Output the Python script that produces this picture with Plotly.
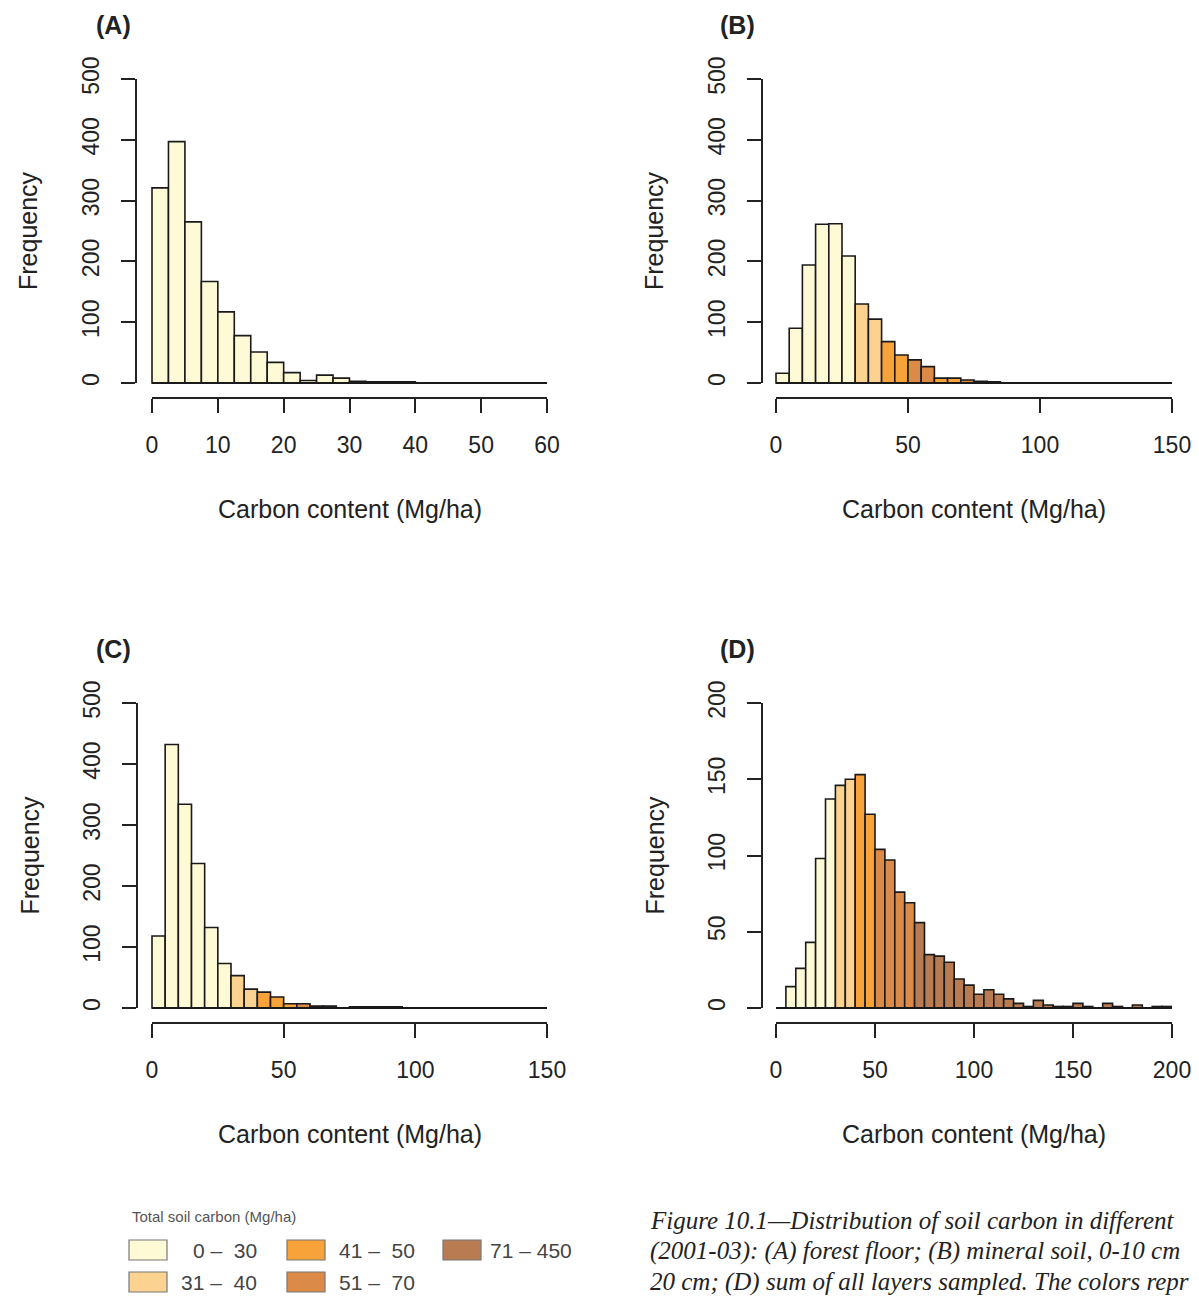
import plotly.graph_objects as go

# ---------------- data ----------------
A_start, A_binw = 0, 2.5
A_counts = [321, 397, 265, 167, 117, 78, 51, 34, 17, 4, 13, 8, 3, 2, 2, 2]
A_class = [0] * 16

B_start, B_binw = 0, 5
B_counts = [16, 90, 194, 261, 262, 209, 130, 105, 68, 46, 38, 27, 8, 8, 5, 3, 2]
B_class = [0, 0, 0, 0, 0, 0, 1, 1, 2, 2, 3, 3, 2, 2, 3, 4, 4]

C_start, C_binw = 0, 5
C_counts = [118, 432, 334, 237, 132, 73, 53, 31, 26, 18, 7, 7, 3, 3, 0, 2, 2, 2, 2]
C_class = [0, 0, 0, 0, 0, 0, 1, 1, 2, 2, 2, 3, 4, 4, 4, 4, 4, 4, 4]

D_start, D_binw = 5, 5
D_counts = [14, 26, 43, 98, 137, 146, 150, 153, 127, 104, 97, 76, 69, 56, 35, 34, 30,
            19, 15, 9, 12, 9, 6, 3, 1, 5, 2, 1, 1, 3, 1, 0, 3, 1, 0, 2, 0, 1, 1]
D_class = [0] * 5 + [1] * 2 + [2] * 2 + [3] * 4 + [4] * 26

class_labels = ["0 \u2013  30", "31 \u2013  40", "41 \u2013  50", "51 \u2013  70", "71 \u2013 450"]
class_colors = ["#FFFAD6", "#FCD290", "#F8A33A", "#DC8A47", "#B87B52"]

panel_titles = ["(A)", "(B)", "(C)", "(D)"]
x_ticks = [[0, 10, 20, 30, 40, 50, 60], [0, 50, 100, 150], [0, 50, 100, 150], [0, 50, 100, 150, 200]]
y_ticks = [[0, 100, 200, 300, 400, 500]] * 3 + [[0, 50, 100, 150, 200]]
x_max = [60, 150, 150, 200]
y_max = [500, 500, 500, 200]
x_title = "Carbon content (Mg/ha)"
y_title = "Frequency"
legend_title = "Total soil carbon (Mg/ha)"
caption_lines = [
    "Figure 10.1\u2014Distribution of soil carbon in different",
    "(2001-03): (A) forest floor; (B) mineral soil, 0-10 cm",
    "20 cm; (D) sum of all layers sampled. The colors repr",
]

# ---------------- layout geometry (screen pixels) ----------------
OFF = 8                      # page body margin in the browser
W, H = 1199 - OFF, 1300 - OFF  # figure size


def px(x):
    return (x - OFF) / W


def py(y):
    return 1 - (y - OFF) / H


# (yaxis_x, x0_px, xmax_px, y0_px, ymax_px, xaxis_y)
geo = [
    (136, 152, 547, 383, 79, 398),
    (762, 776, 1172, 383, 79, 398),
    (137, 152, 547, 1008, 703, 1023),
    (762, 776, 1172, 1008, 703, 1023),
]

FONT = "Liberation Sans, Arial, sans-serif"
INK = "#222222"

fig = go.Figure()
panels = [(A_start, A_binw, A_counts, A_class), (B_start, B_binw, B_counts, B_class),
          (C_start, C_binw, C_counts, C_class), (D_start, D_binw, D_counts, D_class)]

shapes = []
annotations = []
for i, (start, bw, counts, cls) in enumerate(panels):
    n = "" if i == 0 else str(i + 1)
    ax_x, x0p, xmp, y0p, ymp, xay = geo[i]
    pxu = (xmp - x0p) / x_max[i]
    pyu = (y0p - ymp) / y_max[i]
    xr = [-(x0p - ax_x) / pxu, x_max[i]]
    yr = [-(xay - y0p) / pyu, y_max[i]]
    centers = [start + bw * (k + 0.5) for k in range(len(counts))]
    fig.add_trace(go.Bar(
        x=centers, y=counts, width=[bw] * len(counts),
        marker=dict(color=[class_colors[c] for c in cls], line=dict(color="#1a1a1a", width=1.6)),
        xaxis="x" + n, yaxis="y" + n, showlegend=False, hoverinfo="x+y",
    ))
    xa = dict(domain=[px(ax_x), px(xmp)], range=xr, anchor="y" + n, automargin=False,
              tickmode="array", tickvals=x_ticks[i], ticks="outside", ticklen=14, tickwidth=2,
              tickcolor=INK, showline=False, showgrid=False, zeroline=False,
              tickfont=dict(family=FONT, size=23, color=INK), ticklabelstandoff=12)
    ya = dict(domain=[py(xay), py(ymp)], range=yr, anchor="x" + n, automargin=False,
              tickmode="array", tickvals=y_ticks[i], ticks="outside", ticklen=14, tickwidth=2,
              tickcolor=INK, showline=False, showgrid=False, zeroline=False, tickangle=-90,
              tickfont=dict(family=FONT, size=23, color=INK), ticklabelstandoff=13)
    fig.update_layout(**{"xaxis" + n: xa, "yaxis" + n: ya})
    # R-style axis lines spanning only the tick range, plus zero baseline
    shapes.append(dict(type="line", xref="x" + n, yref="y" + n + " domain", x0=0, x1=x_max[i], y0=0, y1=0,
                       line=dict(color=INK, width=2)))
    shapes.append(dict(type="line", xref="x" + n + " domain", yref="y" + n, x0=0, x1=0, y0=0, y1=y_max[i],
                       line=dict(color=INK, width=2)))
    shapes.append(dict(type="line", xref="x" + n, yref="y" + n, x0=0, x1=x_max[i], y0=0, y1=0,
                       line=dict(color="#1a1a1a", width=2)))
    # titles
    annotations.append(dict(text="<b>" + panel_titles[i] + "</b>", x=px(x0p - 39), y=py(ymp - 54),
                            xref="paper", yref="paper", showarrow=False, xanchor="center", yanchor="middle",
                            font=dict(family=FONT, size=25, color=INK)))
    annotations.append(dict(text=x_title, x=px((x0p + xmp) / 2), y=py(xay + 111),
                            xref="paper", yref="paper", showarrow=False, xanchor="center", yanchor="middle",
                            font=dict(family=FONT, size=25, color=INK)))
    annotations.append(dict(text=y_title, x=px(ax_x - 108), y=py((y0p + ymp) / 2),
                            xref="paper", yref="paper", showarrow=False, xanchor="center", yanchor="middle",
                            textangle=-90, font=dict(family=FONT, size=25, color=INK)))

# ---------------- legend ----------------
annotations.append(dict(text=legend_title, x=px(130), y=py(1216), xref="paper", yref="paper",
                        showarrow=False, xanchor="left", yanchor="middle",
                        font=dict(family=FONT, size=15, color="#555555")))
sw_pos = [(129, 1240), (129, 1272), (287, 1240), (287, 1272), (443, 1240)]
for k, (sx, sy) in enumerate(sw_pos):
    shapes.append(dict(type="rect", xref="paper", yref="paper", x0=px(sx), x1=px(sx + 38),
                       y0=py(sy + 20), y1=py(sy), fillcolor=class_colors[k],
                       line=dict(color="#777777", width=1.2)))
    annotations.append(dict(text=class_labels[k], x=px(sx + 130 if k < 4 else sx + 131),
                            y=py(sy + 10), xref="paper", yref="paper", showarrow=False,
                            xanchor="right", yanchor="middle",
                            font=dict(family=FONT, size=21, color="#444444")))

# ---------------- caption ----------------
for j, line in enumerate(caption_lines):
    annotations.append(dict(text="<i>" + line + "</i>", x=px(648), y=py(1220 + 31 * j),
                            xref="paper", yref="paper", showarrow=False, xanchor="left", yanchor="middle",
                            font=dict(family="Liberation Serif, Times New Roman, serif", size=25, color="#222222")))

fig.update_layout(width=W, height=H, margin=dict(l=0, r=0, t=0, b=0),
                  paper_bgcolor="white", plot_bgcolor="white", barmode="overlay",
                  shapes=shapes, annotations=annotations, showlegend=False)

fig.write_html("out.html")
